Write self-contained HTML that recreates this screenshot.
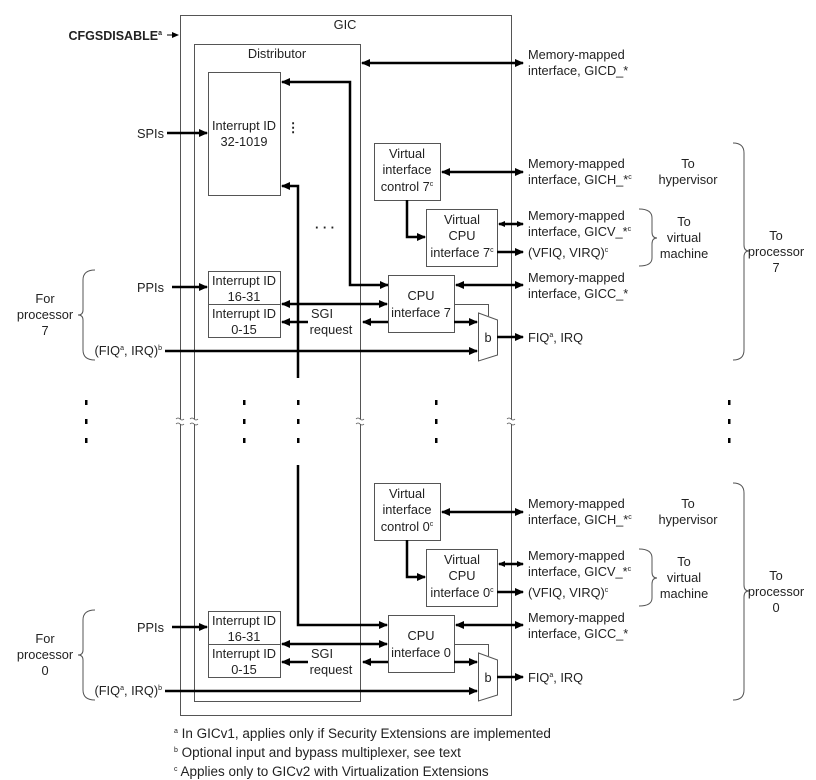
<!DOCTYPE html>
<html><head><meta charset="utf-8"><style>
html,body{margin:0;padding:0;background:#fff;}
svg{display:block;font-family:"Liberation Sans",sans-serif;font-size:12.8px;fill:#222;}
</style></head><body>
<svg width="816" height="780" viewBox="0 0 816 780" xmlns="http://www.w3.org/2000/svg">
<defs>
<marker id="ah" markerWidth="10" markerHeight="10" refX="8" refY="4" orient="auto-start-reverse" markerUnits="userSpaceOnUse"><path d="M0,0 L9,4 L0,8 z" fill="#000"/></marker>
<marker id="as" markerWidth="8" markerHeight="8" refX="6" refY="3" orient="auto-start-reverse" markerUnits="userSpaceOnUse"><path d="M0,0 L7,3 L0,6 z" fill="#000"/></marker>
</defs>
<g fill="none" stroke="#555" stroke-width="1">
<rect x="180.5" y="15.5" width="331" height="700"/>
<rect x="194.5" y="44.5" width="166" height="657"/>
<rect x="208.5" y="72.5" width="72" height="123"/>
</g>
<text x="345" y="29" text-anchor="middle">GIC</text>
<text x="277" y="58" text-anchor="middle">Distributor</text>
<text x="162" y="40" text-anchor="end" font-weight="bold" font-size="12.5">CFGSDISABLE<tspan font-size="7" dy="-5">a</tspan></text>
<path d="M167,35 L178,35" stroke="#000" stroke-width="1" marker-end="url(#as)"/>
<text x="244" y="130" text-anchor="middle">Interrupt ID</text>
<text x="244" y="146" text-anchor="middle">32-1019</text>
<text x="293" y="132" font-weight="bold" text-anchor="middle">⋮</text>
<text x="325" y="232" font-weight="bold" text-anchor="middle">· · ·</text>
<text x="164" y="138" text-anchor="end">SPIs</text>
<g stroke="#000" stroke-width="2.5" fill="none">
<path d="M167,133 L207,133" marker-end="url(#ah)"/>
<path d="M362,63 L523,63" marker-start="url(#ah)" marker-end="url(#ah)"/>
<path d="M388,285 L350,285 L350,82 L282,82" marker-start="url(#ah)" marker-end="url(#ah)"/>
<path d="M298,378 L298,186 L282,186" marker-end="url(#ah)"/>
<path d="M298,465 L298,625 L387,625" marker-end="url(#ah)"/>
</g>
<text x="528" y="59">Memory-mapped</text>
<text x="528" y="75">interface, GICD_*</text>
<g fill="#000">
<rect x="85" y="400" width="2.5" height="5"/><rect x="85" y="419" width="2.5" height="5"/><rect x="85" y="438" width="2.5" height="5"/>
<rect x="243" y="400" width="2.5" height="5"/><rect x="243" y="419" width="2.5" height="5"/><rect x="243" y="438" width="2.5" height="5"/>
<rect x="297" y="400" width="2.5" height="5"/><rect x="297" y="419" width="2.5" height="5"/><rect x="297" y="438" width="2.5" height="5"/>
<rect x="435" y="400" width="2.5" height="5"/><rect x="435" y="419" width="2.5" height="5"/><rect x="435" y="438" width="2.5" height="5"/>
<rect x="728" y="400" width="2.5" height="5"/><rect x="728" y="419" width="2.5" height="5"/><rect x="728" y="438" width="2.5" height="5"/>
</g>
<g fill="#fff" stroke="#555" stroke-width="0.8">
<rect x="176" y="419" width="9" height="5" stroke="none"/><path d="M176,419 q2,-2 4,0 t4,0 M176,424 q2,-2 4,0 t4,0" fill="none"/>
<rect x="190" y="419" width="9" height="5" stroke="none"/><path d="M190,419 q2,-2 4,0 t4,0 M190,424 q2,-2 4,0 t4,0" fill="none"/>
<rect x="356" y="419" width="9" height="5" stroke="none"/><path d="M356,419 q2,-2 4,0 t4,0 M356,424 q2,-2 4,0 t4,0" fill="none"/>
<rect x="507" y="419" width="9" height="5" stroke="none"/><path d="M507,419 q2,-2 4,0 t4,0 M507,424 q2,-2 4,0 t4,0" fill="none"/>
</g>

<g>
<g fill="#fff" stroke="#555" stroke-width="1">
<rect x="374.5" y="143.5" width="66" height="57"/>
<rect x="426.5" y="209.5" width="71" height="57"/>
<rect x="388.5" y="275.5" width="66" height="57"/>
<rect x="208.5" y="271.5" width="72" height="33"/>
<rect x="208.5" y="304.5" width="72" height="33"/>
<path d="M454,304.5 L488.5,304.5 L488.5,316" fill="none"/>
<polygon points="478.5,313 497.5,320 497.5,355 478.5,361"/>
</g>
<text x="407" y="158" text-anchor="middle">Virtual</text>
<text x="407" y="174" text-anchor="middle">interface</text>
<text x="407" y="191" text-anchor="middle">control 7<tspan font-size="7" dy="-5">c</tspan></text>
<text x="462" y="224" text-anchor="middle">Virtual</text>
<text x="462" y="240" text-anchor="middle">CPU</text>
<text x="462" y="257" text-anchor="middle">interface 7<tspan font-size="7" dy="-5">c</tspan></text>
<text x="421" y="300" text-anchor="middle">CPU</text>
<text x="421" y="317" text-anchor="middle">interface 7</text>
<text x="244" y="285" text-anchor="middle">Interrupt ID</text>
<text x="244" y="301" text-anchor="middle">16-31</text>
<text x="244" y="318" text-anchor="middle">Interrupt ID</text>
<text x="244" y="334" text-anchor="middle">0-15</text>
<text x="322" y="318" text-anchor="middle">SGI</text>
<text x="331" y="334" text-anchor="middle">request</text>
<text x="488" y="342" text-anchor="middle">b</text>
<text x="164" y="292" text-anchor="end">PPIs</text>
<text x="162" y="355" text-anchor="end">(FIQ<tspan font-size="7" dy="-5">a</tspan><tspan dy="5">, IRQ)</tspan><tspan font-size="7" dy="-5">b</tspan></text>
<text x="45" y="303" text-anchor="middle">For</text>
<text x="45" y="319" text-anchor="middle">processor</text>
<text x="45" y="335" text-anchor="middle">7</text>
<path d="M95,270 Q83,270 83,280 L83,310 Q83,315 78,315 Q83,315 83,320 L83,350 Q83,360 95,360" fill="none" stroke="#555" stroke-width="1"/>
<g stroke="#000" stroke-width="2.5" fill="none">
<path d="M172,287 L207,287" marker-end="url(#ah)"/>
<path d="M282,304 L387,304" marker-start="url(#ah)" marker-end="url(#ah)"/>
<path d="M308,322 L282,322" marker-end="url(#ah)"/>
<path d="M388,322 L363,322" marker-end="url(#ah)"/>
<path d="M454,322 L477,322" marker-end="url(#ah)"/>
<path d="M165,351 L477,351" marker-end="url(#ah)"/>
<path d="M497,337 L523,337" marker-end="url(#ah)"/>
<path d="M442,172 L523,172" marker-start="url(#ah)" marker-end="url(#ah)"/>
<path d="M407,200 L407,237 L425,237" marker-end="url(#ah)"/>
<path d="M499,224 L523,224" marker-start="url(#as)" marker-end="url(#as)"/>
<path d="M497,252 L523,252" marker-end="url(#ah)"/>
<path d="M456,285 L523,285" marker-start="url(#ah)" marker-end="url(#ah)"/>
</g>
<text x="528" y="168">Memory-mapped</text>
<text x="528" y="184">interface, GICH_*<tspan font-size="7" dy="-5">c</tspan></text>
<text x="528" y="220">Memory-mapped</text>
<text x="528" y="236">interface, GICV_*<tspan font-size="7" dy="-5">c</tspan></text>
<text x="528" y="257">(VFIQ, VIRQ)<tspan font-size="7" dy="-5">c</tspan></text>
<text x="528" y="282">Memory-mapped</text>
<text x="528" y="298">interface, GICC_*</text>
<text x="528" y="342">FIQ<tspan font-size="7" dy="-5">a</tspan><tspan dy="5">, IRQ</tspan></text>
<text x="688" y="168" text-anchor="middle">To</text>
<text x="688" y="184" text-anchor="middle">hypervisor</text>
<text x="684" y="226" text-anchor="middle">To</text>
<text x="684" y="242" text-anchor="middle">virtual</text>
<text x="684" y="258" text-anchor="middle">machine</text>
<text x="776" y="240" text-anchor="middle">To</text>
<text x="776" y="256" text-anchor="middle">processor</text>
<text x="776" y="272" text-anchor="middle">7</text>
<path d="M639,209 Q652,209 652,218 L652,232 Q652,238 657,238 Q652,238 652,244 L652,258 Q652,266 639,266" fill="none" stroke="#555" stroke-width="1"/>
<path d="M733,143 Q744,143 744,153 L744,245 Q744,251 749,251 Q744,251 744,257 L744,350 Q744,360 733,360" fill="none" stroke="#555" stroke-width="1"/>
</g>

<g transform="translate(0,340)">
<g fill="#fff" stroke="#555" stroke-width="1">
<rect x="374.5" y="143.5" width="66" height="57"/>
<rect x="426.5" y="209.5" width="71" height="57"/>
<rect x="388.5" y="275.5" width="66" height="57"/>
<rect x="208.5" y="271.5" width="72" height="33"/>
<rect x="208.5" y="304.5" width="72" height="33"/>
<path d="M454,304.5 L488.5,304.5 L488.5,316" fill="none"/>
<polygon points="478.5,313 497.5,320 497.5,355 478.5,361"/>
</g>
<text x="407" y="158" text-anchor="middle">Virtual</text>
<text x="407" y="174" text-anchor="middle">interface</text>
<text x="407" y="191" text-anchor="middle">control 0<tspan font-size="7" dy="-5">c</tspan></text>
<text x="462" y="224" text-anchor="middle">Virtual</text>
<text x="462" y="240" text-anchor="middle">CPU</text>
<text x="462" y="257" text-anchor="middle">interface 0<tspan font-size="7" dy="-5">c</tspan></text>
<text x="421" y="300" text-anchor="middle">CPU</text>
<text x="421" y="317" text-anchor="middle">interface 0</text>
<text x="244" y="285" text-anchor="middle">Interrupt ID</text>
<text x="244" y="301" text-anchor="middle">16-31</text>
<text x="244" y="318" text-anchor="middle">Interrupt ID</text>
<text x="244" y="334" text-anchor="middle">0-15</text>
<text x="322" y="318" text-anchor="middle">SGI</text>
<text x="331" y="334" text-anchor="middle">request</text>
<text x="488" y="342" text-anchor="middle">b</text>
<text x="164" y="292" text-anchor="end">PPIs</text>
<text x="162" y="355" text-anchor="end">(FIQ<tspan font-size="7" dy="-5">a</tspan><tspan dy="5">, IRQ)</tspan><tspan font-size="7" dy="-5">b</tspan></text>
<text x="45" y="303" text-anchor="middle">For</text>
<text x="45" y="319" text-anchor="middle">processor</text>
<text x="45" y="335" text-anchor="middle">0</text>
<path d="M95,270 Q83,270 83,280 L83,310 Q83,315 78,315 Q83,315 83,320 L83,350 Q83,360 95,360" fill="none" stroke="#555" stroke-width="1"/>
<g stroke="#000" stroke-width="2.5" fill="none">
<path d="M172,287 L207,287" marker-end="url(#ah)"/>
<path d="M282,304 L387,304" marker-start="url(#ah)" marker-end="url(#ah)"/>
<path d="M308,322 L282,322" marker-end="url(#ah)"/>
<path d="M388,322 L363,322" marker-end="url(#ah)"/>
<path d="M454,322 L477,322" marker-end="url(#ah)"/>
<path d="M165,351 L477,351" marker-end="url(#ah)"/>
<path d="M497,337 L523,337" marker-end="url(#ah)"/>
<path d="M442,172 L523,172" marker-start="url(#ah)" marker-end="url(#ah)"/>
<path d="M407,200 L407,237 L425,237" marker-end="url(#ah)"/>
<path d="M499,224 L523,224" marker-start="url(#as)" marker-end="url(#as)"/>
<path d="M497,252 L523,252" marker-end="url(#ah)"/>
<path d="M456,285 L523,285" marker-start="url(#ah)" marker-end="url(#ah)"/>
</g>
<text x="528" y="168">Memory-mapped</text>
<text x="528" y="184">interface, GICH_*<tspan font-size="7" dy="-5">c</tspan></text>
<text x="528" y="220">Memory-mapped</text>
<text x="528" y="236">interface, GICV_*<tspan font-size="7" dy="-5">c</tspan></text>
<text x="528" y="257">(VFIQ, VIRQ)<tspan font-size="7" dy="-5">c</tspan></text>
<text x="528" y="282">Memory-mapped</text>
<text x="528" y="298">interface, GICC_*</text>
<text x="528" y="342">FIQ<tspan font-size="7" dy="-5">a</tspan><tspan dy="5">, IRQ</tspan></text>
<text x="688" y="168" text-anchor="middle">To</text>
<text x="688" y="184" text-anchor="middle">hypervisor</text>
<text x="684" y="226" text-anchor="middle">To</text>
<text x="684" y="242" text-anchor="middle">virtual</text>
<text x="684" y="258" text-anchor="middle">machine</text>
<text x="776" y="240" text-anchor="middle">To</text>
<text x="776" y="256" text-anchor="middle">processor</text>
<text x="776" y="272" text-anchor="middle">0</text>
<path d="M639,209 Q652,209 652,218 L652,232 Q652,238 657,238 Q652,238 652,244 L652,258 Q652,266 639,266" fill="none" stroke="#555" stroke-width="1"/>
<path d="M733,143 Q744,143 744,153 L744,245 Q744,251 749,251 Q744,251 744,257 L744,350 Q744,360 733,360" fill="none" stroke="#555" stroke-width="1"/>
</g>

<g font-size="13.5">
<text x="174" y="738"><tspan font-size="7" dy="-5">a</tspan><tspan dy="5"> In GICv1, applies only if Security Extensions are implemented</tspan></text>
<text x="174" y="757"><tspan font-size="7" dy="-5">b</tspan><tspan dy="5"> Optional input and bypass multiplexer, see text</tspan></text>
<text x="174" y="776"><tspan font-size="7" dy="-5">c</tspan><tspan dy="5"> Applies only to GICv2 with Virtualization Extensions</tspan></text>
</g>
</svg>
</body></html>
